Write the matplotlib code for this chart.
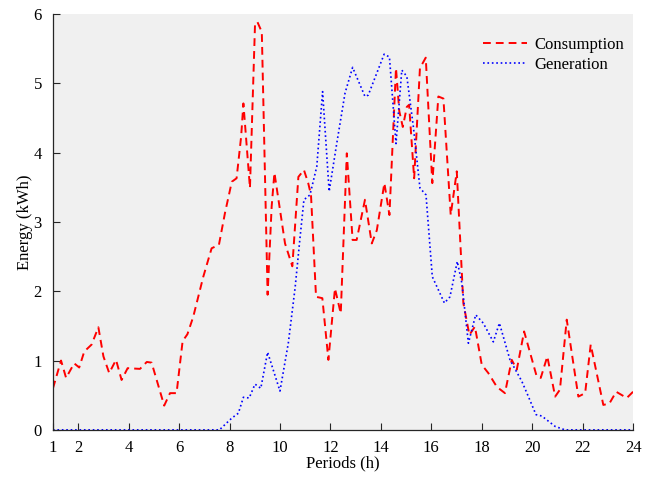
import matplotlib
matplotlib.use('Agg')
import matplotlib.pyplot as plt
import numpy as np

# consumption (red dashed)
cons_h = [1.0, 1.32, 1.52, 1.84, 2.04, 2.24, 2.53, 2.80, 3.0, 3.23, 3.5, 3.72, 3.96,
          4.45, 4.72, 4.91, 5.41, 5.64, 5.9, 6.14, 6.33, 6.56, 6.96, 7.29, 7.58, 7.82,
          8.09, 8.28, 8.46, 8.55, 8.81, 9.01, 9.10, 9.28, 9.51, 9.67, 9.78, 10.20, 10.49,
          10.73, 10.95, 11.12, 11.23, 11.43, 11.68, 11.92, 12.18, 12.41, 12.65, 12.88,
          13.04, 13.37, 13.64, 13.84, 14.14, 14.34, 14.60, 14.73, 14.87, 15.03, 15.12,
          15.32, 15.55, 15.78, 16.04, 16.28, 16.48, 16.77, 17.01, 17.27, 17.51, 17.73,
          18.0, 18.26, 18.6, 18.92, 19.19, 19.39, 19.68, 20.18, 20.34, 20.6, 20.91, 21.1,
          21.37, 21.83, 22.1, 22.32, 22.82, 23.06, 23.33, 23.75, 24.0]
cons_kwh = [0.6, 1.0, 0.75, 0.96, 0.9, 1.13, 1.23, 1.48, 1.06, 0.82, 1.01, 0.72, 0.89,
            0.88, 0.98, 0.97, 0.35, 0.53, 0.53, 1.28, 1.38, 1.63, 2.21, 2.62, 2.67, 3.13,
            3.58, 3.63, 4.23, 4.71, 3.49, 5.84, 5.89, 5.74, 1.95, 3.22, 3.71, 2.69, 2.36,
            3.65, 3.75, 3.56, 3.39, 1.92, 1.90, 1.01, 2.04, 1.68, 3.99, 2.74,
            2.74, 3.32, 2.69, 2.88, 3.56, 3.10, 5.22, 4.6, 4.37, 4.66, 4.69,
            3.63, 5.22, 5.37, 3.56, 4.81, 4.78, 3.10, 3.73, 1.83, 1.37, 1.49,
            0.94, 0.82, 0.62, 0.53, 1.01, 0.87, 1.42, 0.77, 0.75, 1.06, 0.48, 0.58,
            1.59, 0.48, 0.53, 1.23, 0.36, 0.38, 0.55, 0.46, 0.55]

# generation (blue dotted)
gen_h = [1.0, 7.6, 8.09, 8.35, 8.55, 8.78, 9.01, 9.24, 9.51, 10.0, 10.33, 10.6, 10.8,
         10.95, 11.19, 11.46, 11.69, 11.95, 12.25, 12.58, 12.88, 13.37, 13.50, 14.13,
         14.34, 14.60, 14.83, 15.03, 15.29, 15.55, 15.79, 16.04, 16.52, 16.74, 17.03,
         17.21, 17.47, 17.76, 18.06, 18.46, 18.70, 19.12, 19.59, 19.85, 20.15, 20.38,
         20.91, 21.3, 24.0]
gen_kwh = [0.0, 0.0, 0.17, 0.24, 0.47, 0.46, 0.66, 0.60, 1.12, 0.56, 1.25, 2.05, 2.79,
           3.32, 3.39, 3.80, 4.88, 3.44, 4.13, 4.86, 5.23, 4.81, 4.83, 5.42,
           5.38, 4.13, 5.19, 5.10, 4.37, 3.49, 3.39, 2.21, 1.83, 1.92, 2.43,
           2.12, 1.25, 1.66, 1.54, 1.27, 1.54, 1.01, 0.70, 0.48, 0.22, 0.20,
           0.05, 0.0, 0.0]

xtick_vals = [1, 2, 4, 6, 8, 10, 12, 14, 16, 18, 20, 22, 24]

plt.rcParams['font.family'] = ['Liberation Serif', 'DejaVu Serif']
plt.rcParams['font.size'] = 12

fig = plt.figure(figsize=(6.54, 4.83), dpi=100)
ax = fig.add_axes([0.081, 0.110, 0.887, 0.861])
ax.set_facecolor('#f0f0f0')

ax.plot(cons_h, cons_kwh, color='red', linestyle='--', dashes=(4, 2.6), lw=1.4,
        label='Consumption')
ax.plot(gen_h, gen_kwh, color='blue', linestyle=':', lw=1.2, label='Generation')

ax.set_xlim(1, 24)
ax.set_ylim(0, 6)
ax.set_xticks(xtick_vals)
ax.set_yticks(np.arange(0, 7, 1))
ax.tick_params(direction='in', length=5, width=0.8, colors='#262626', labelcolor='black')
ax.tick_params(axis='x', pad=7)
ax.tick_params(axis='y', pad=8)
ax.spines['top'].set_visible(False)
ax.spines['right'].set_visible(False)
for s in ('left', 'bottom'):
    ax.spines[s].set_color('#262626')
    ax.spines[s].set_linewidth(0.9)

ax.set_xlabel('Periods (h)', labelpad=0)
ax.set_ylabel('Energy (kWh)', labelpad=0)

lgd = ax.legend(loc='upper right', frameon=False, bbox_to_anchor=(1.01, 0.98),
                handlelength=2.6, handletextpad=0.45, labelspacing=0.2, fontsize=12)

fig.savefig('out.png', dpi=100)
plt.close()
